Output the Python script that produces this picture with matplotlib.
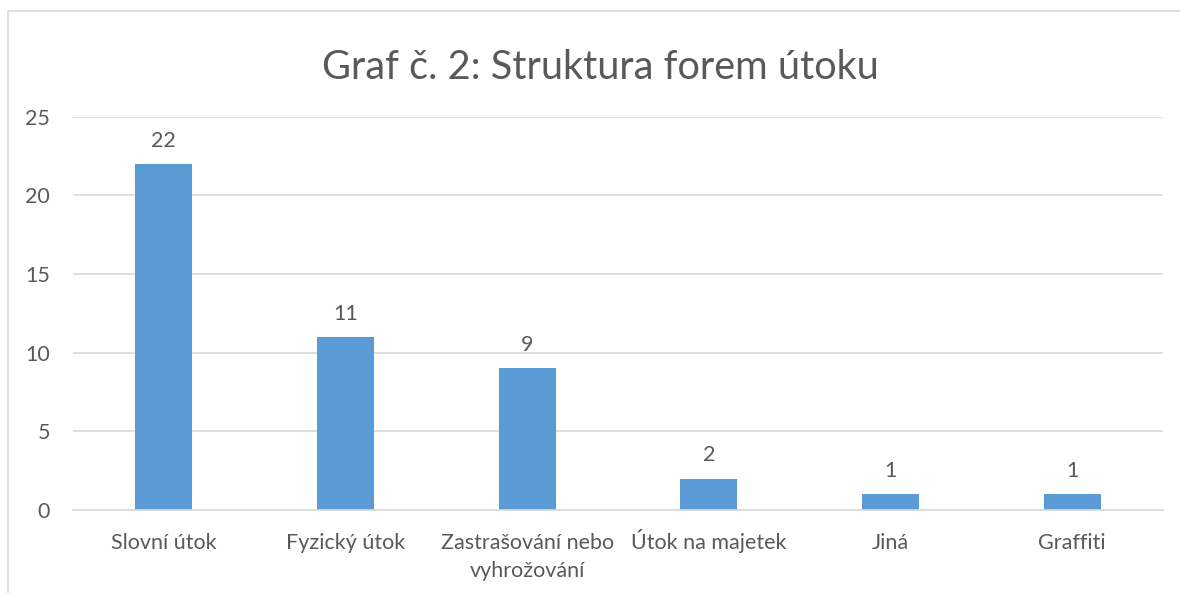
import matplotlib
matplotlib.use("Agg")
import matplotlib.pyplot as plt
from matplotlib.patches import Rectangle
from matplotlib.transforms import blended_transform_factory, offset_copy

categories = ["Slovní útok", "Fyzický útok", "Zastrašování nebo\nvyhrožování",
              "Útok na majetek", "Jiná", "Graffiti"]
values = [22, 11, 9, 2, 1, 1]
yticks = [0, 5, 10, 15, 20, 25]
title = "Graf č. 2: Struktura forem útoku"

plt.rcParams['font.family'] = ['Lato', 'DejaVu Sans']
txt = '#595959'
grid = '#d9d9d9'
bar_color = '#5b9bd5'
fs = 15.5

fig = plt.figure(figsize=(11.8, 5.93), dpi=100)
fig.patches.append(Rectangle((8/1180, -0.1), 1.2, 1 - 11/593 + 0.1,
                             transform=fig.transFigure, fill=False,
                             edgecolor=grid, linewidth=1.2))
ax = fig.add_axes([73/1180, 1 - 510/593, (1163 - 73)/1180, (510 - 116.7)/593])

x = list(range(len(categories)))
ax.bar(x, values, width=0.314, color=bar_color, zorder=3)
ax.set_xlim(-0.5, len(categories) - 0.5)
ax.set_ylim(0, 25)
ax.set_yticks(yticks)
ax.set_xticks(x)
ax.set_xticklabels([])
ax.tick_params(axis='y', labelsize=fs, labelcolor=txt, length=0, pad=16.5)
ax.tick_params(axis='x', length=0)
ax.grid(axis='y', color=grid, linewidth=1.2, zorder=0)
for s in ['top', 'right', 'left']:
    ax.spines[s].set_visible(False)
ax.spines['bottom'].set_color(grid)
ax.spines['bottom'].set_linewidth(1.2)
ax.spines['bottom'].set_zorder(4)

# category labels, baseline aligned (first line baseline ~39 px below axis)
trans = blended_transform_factory(ax.transData, ax.transAxes)
for xi, lab in zip(x, categories):
    for li, line in enumerate(lab.split("\n")):
        t = offset_copy(trans, fig=fig, x=0, y=-(39 + 28 * li) * 72 / 100,
                        units='points')
        ax.text(xi, 0, line, transform=t, ha='center', va='baseline',
                fontsize=fs, color=txt)

for xi, v in zip(x, values):
    ax.annotate(str(v), (xi, v), xytext=(0, 12.5), textcoords='offset points',
                ha='center', va='baseline', fontsize=fs, color=txt)

fig.text(600/1180, 1 - 79/593, title, ha='center', va='baseline',
         fontsize=28.5, color=txt)

fig.savefig('out.png', dpi=100)
